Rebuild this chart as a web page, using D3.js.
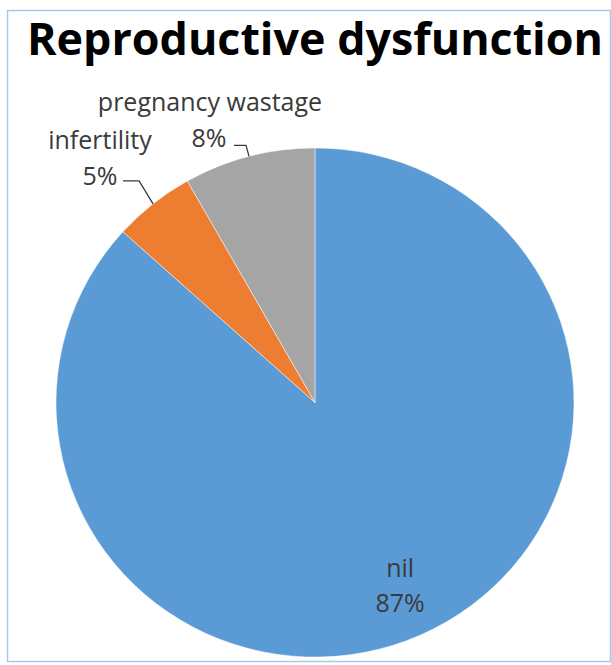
<!DOCTYPE html>
<html>
<head>
<meta charset="utf-8">
<script src="https://cdn.jsdelivr.net/npm/d3@7"></script>
<style>
	body { margin: 0; background: #fff; }
	text { font-family: "Open Sans", sans-serif; }
</style>
</head>
<body>
<svg id="chart" width="611" height="665"></svg>
<script>
// slice data (angles give ~86.7 / 5.1 / 8.2)
var categories = ["nil", "infertility", "pregnancy wastage"];
var values = [86.7, 5.1, 8.2];
var colors = ["#5b9bd5", "#ed7d31", "#a5a5a5"];
var title = "Reproductive dysfunction";

var svg = d3.select("#chart");
var cx = 315, cy = 402.5, radius = 259, squash = 0.983;

svg.append("rect")
	.attr("x", 7.5)
	.attr("y", 10.5)
	.attr("width", 603)
	.attr("height", 651)
	.attr("fill", "#fff")
	.attr("stroke", "#a8c9ea")
	.attr("stroke-width", 1.5);

svg.append("text")
	.text(title)
	.attr("x", 27)
	.attr("y", 55)
	.attr("textLength", 576)
	.attr("lengthAdjust", "spacingAndGlyphs")
	.attr("font-size", 45)
	.attr("font-weight", "bold")
	.attr("fill", "#000");

var data = categories.map(function(c, i) { return { name: c, value: values[i], color: colors[i] }; });
var total = d3.sum(values);
var pct = function(v) { return Math.round(v / total * 100) + "%"; };

var pie = d3.pie().sort(null).value(function(d) { return d.value; });
var arcs = pie(data);
var arc = d3.arc().innerRadius(0).outerRadius(radius);

var g = svg.append("g")
	.attr("transform", "translate(" + cx + "," + cy + ") scale(1," + squash + ")");

g.selectAll("path.slice")
	.data(arcs)
	.enter().append("path")
	.attr("class", "slice")
	.attr("d", arc)
	.attr("fill", function(d) { return d.data.color; })
	.attr("stroke", "#fff")
	.attr("stroke-width", 0.5);

// point on the pie at angle a and radius r, in page coordinates
function pt(a, r) {
	return [cx + r * Math.sin(a), cy - r * Math.cos(a) * squash];
}
function mid(d) { return (d.startAngle + d.endAngle) / 2; }

var labelColor = "#3a3a3a";
var fs = 25;

// nil: inside the slice
var nilPos = pt(mid(arcs[0]), radius * 0.81);
var nilText = svg.append("text")
	.attr("text-anchor", "middle")
	.attr("font-size", fs)
	.attr("fill", labelColor);
nilText.append("tspan").attr("x", nilPos[0]).attr("y", nilPos[1] - 14).text(arcs[0].data.name);
nilText.append("tspan").attr("x", nilPos[0]).attr("y", nilPos[1] + 21).text(pct(arcs[0].data.value));

// outside labels with leader lines
var outside = [
	{ i: 1, elbow: [-14, -23], endX: 123, lx: 100, ly: 185, px: 100 },
	{ i: 2, elbow: [-3, -11], endX: 234, lx: 210, ly: 147, px: 209 }
];

outside.forEach(function(o) {
	var d = arcs[o.i];
	var p0 = pt(mid(d), radius);
	var p1 = [p0[0] + o.elbow[0], p0[1] + o.elbow[1]];
	svg.append("polyline")
		.attr("points", [p0, p1, [o.endX, p1[1]]].map(function(p) { return p.join(","); }).join(" "))
		.attr("fill", "none")
		.attr("stroke", labelColor)
		.attr("stroke-width", 1.3);

	var t = svg.append("text")
		.attr("text-anchor", "middle")
		.attr("font-size", fs)
		.attr("fill", labelColor);
	t.append("tspan").attr("x", o.lx).attr("y", o.ly - 36).text(d.data.name);
	t.append("tspan").attr("x", o.px).attr("y", o.ly).text(pct(d.data.value));
});
</script>
</body>
</html>
